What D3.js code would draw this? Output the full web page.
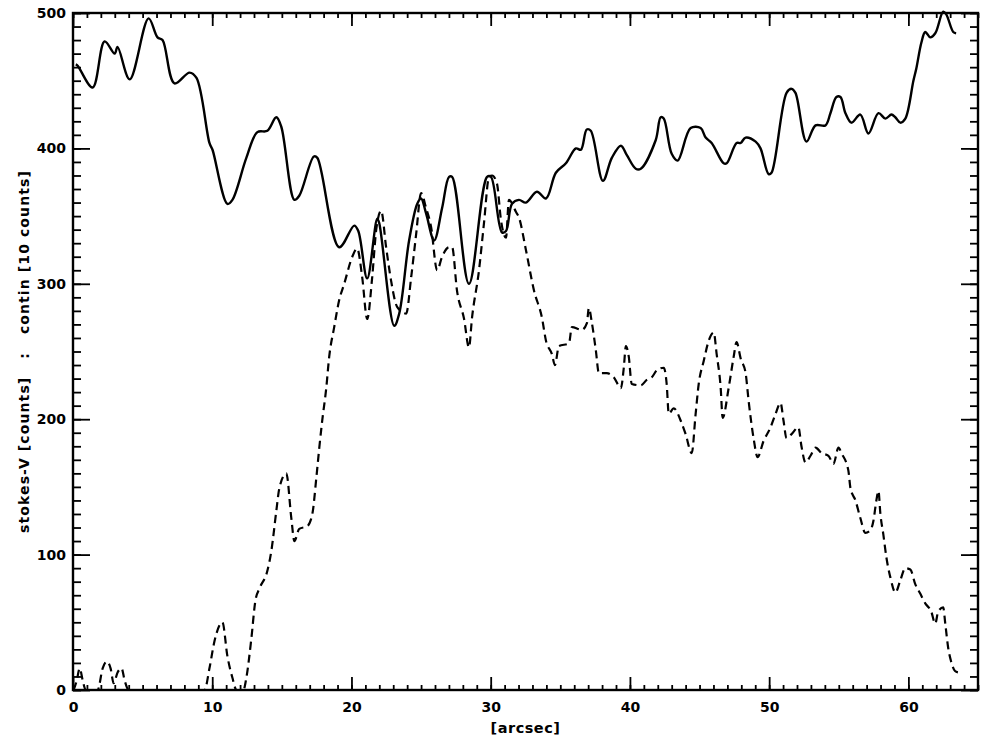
<!DOCTYPE html>
<html>
<head>
<meta charset="utf-8">
<script src="https://cdn.jsdelivr.net/npm/d3@7"></script>
<style>
  body { margin: 0; background: #fff; }
  text { font-family: "DejaVu Sans", sans-serif; fill: #000; }
</style>
</head>
<body>
<script>
var width = 992,
    height = 744;

// continuum intensity (solid), [10 counts]
var contX = [0.2, 0.34, 1.41, 2.27, 2.99, 3.2, 4.07, 5.43, 6.07, 6.43, 7.29, 8.37, 8.87, 9.8, 10.02,
  11.09, 11.45, 12.45, 13.24, 13.96, 14.6, 14.96, 15.9, 16.25, 17.3, 17.55, 19.12, 20.2, 20.49,
  21.13, 21.85, 21.99, 23.07, 23.43, 24.14, 24.72, 25.0, 25.36, 25.94, 26.51, 27.01, 27.23, 28.44,
  29.74, 30.02, 30.81, 31.1, 31.53, 32.03, 32.53, 33.32, 33.97, 34.68, 35.4, 36.12, 36.48, 36.9,
  37.19, 38.06, 38.7, 39.35, 39.78, 40.42, 40.78, 41.85, 42.21, 42.43, 43.0, 43.43, 44.36, 45.08,
  45.44, 45.87, 46.73, 46.95, 47.66, 47.95, 48.31, 49.03, 49.38, 49.96, 50.17, 51.25, 51.61, 51.89,
  52.68, 53.33, 54.04, 54.4, 54.83, 55.12, 55.48, 55.91, 56.55, 57.13, 57.85, 58.35, 58.78, 59.06,
  59.42, 59.78, 60.36, 60.57, 60.93, 61.21, 61.57, 61.93, 62.5, 62.72, 63.22, 63.43];
var contY = [462, 461, 445, 479, 470, 475, 451, 496, 482, 480, 448, 456, 452, 404, 399,
  359, 362, 393, 412, 413, 423, 416, 362, 365, 394, 393, 327, 343, 339,
  304, 348, 345, 269, 278, 332, 359, 363, 352, 332, 356, 379, 379, 300,
  379, 379, 338, 339, 359, 362, 360, 368, 363, 382, 389, 400, 399, 414,
  413, 376, 393, 402, 395, 385, 385, 406, 423, 422, 396, 391, 415, 415,
  408, 404, 389, 389, 404, 404, 408, 405, 400, 381, 382, 441, 444, 441,
  405, 417, 417, 426, 438, 438, 426, 419, 425, 411, 426, 422, 425, 423,
  419, 422, 450, 459, 478, 486, 482, 485, 501, 499, 486, 485];

// stokes-V (dashed), [counts]
var stokesX = [0.05, 0.27, 0.48, 0.7, 0.91, 1.77, 2.13, 2.42, 2.7, 2.92, 3.2, 3.49, 3.71, 4.0,
  9.45, 9.8, 10.16, 10.73, 11.09, 11.45, 11.74, 12.24, 12.45, 12.81, 13.1, 13.39, 13.96, 14.25,
  14.6, 14.82, 15.32, 15.68, 15.9, 16.25, 16.83, 17.19, 17.48, 17.69, 17.9, 18.19, 18.4, 18.76,
  19.12, 19.48, 20.06, 20.41, 20.77, 21.13, 21.49, 21.78, 22.13, 22.49, 22.85, 23.28, 23.93, 24.29,
  24.65, 25.0, 25.36, 25.72, 26.15, 26.51, 27.01, 27.23, 27.58, 28.09, 28.44, 28.66, 29.16, 29.52,
  29.88, 30.1, 30.45, 30.74, 31.1, 31.31, 31.82, 32.03, 32.53, 33.11, 33.68, 33.97, 34.4, 34.61,
  34.9, 35.62, 35.83, 36.55, 36.91, 37.05, 37.27, 37.55, 37.77, 38.34, 38.84, 39.35, 39.56, 39.71,
  39.92, 40.13, 40.78, 41.21, 41.57, 41.93, 42.43, 42.64, 42.79, 43.14, 43.72, 44.0, 44.44, 44.72,
  44.94, 45.3, 45.66, 46.02, 46.23, 46.52, 46.66, 47.09, 47.45, 47.66, 47.95, 48.31, 48.52, 48.88,
  49.17, 49.6, 50.1, 50.46, 50.82, 51.03, 51.25, 51.61, 52.1, 52.32, 52.61, 52.97, 53.33, 53.76,
  54.26, 54.62, 54.98, 55.19, 55.69, 55.84, 56.2, 56.55, 56.91, 57.27, 57.49, 57.7, 57.85, 57.99,
  58.2, 58.42, 58.71, 59.07, 59.42, 59.78, 60.14, 60.5, 60.86, 61.21, 61.64, 61.93, 62.14, 62.5,
  62.65, 62.86, 63.07, 63.35, 63.57];
var stokesY = [0, 7, 16, 7, 0, 0, 16, 21, 16, 5, 13, 16, 7, 0,
  0, 16, 36, 50, 25, 9, 0, 0, 9, 38, 66, 75, 88, 103,
  132, 149, 160, 127, 110, 119, 121, 130, 157, 179, 199, 223, 246, 268,
  288, 300, 320, 326, 305, 274, 305, 340, 354, 327, 302, 283, 278, 305,
  337, 367, 356, 342, 310, 320, 327, 327, 295, 274, 253, 275, 310, 345,
  379, 380, 374, 347, 334, 362, 353, 349, 325, 295, 275, 258, 248, 240,
  254, 256, 268, 266, 271, 282, 271, 251, 234, 234, 231, 223, 238, 254,
  246, 226, 225, 229, 231, 236, 238, 226, 204, 208, 197, 189, 175, 204,
  226, 243, 258, 264, 248, 223, 201, 223, 246, 257, 245, 234, 214, 186,
  172, 184, 194, 204, 212, 199, 186, 189, 194, 180, 168, 173, 179, 175,
  173, 167, 179, 175, 162, 149, 140, 127, 116, 118, 125, 140, 147, 130,
  115, 98, 83, 72, 81, 90, 89, 78, 71, 64, 58, 49, 58, 61,
  49, 31, 21, 14, 13];

var xMajor = [0, 10, 20, 30, 40, 50, 60];
var yMajor = [0, 100, 200, 300, 400, 500];
var xTitle = "[arcsec]";
var yTitle = "stokes-V [counts]   :   contin [10 counts]";

// plot box (window.top is reserved, so prefixed names)
var pLeft = 73, pRight = 978, pTop = 13, pBottom = 690;

var svg = d3.select('body')
    .append('svg')
    .attr('width', width)
    .attr('height', height);

var x = d3.scaleLinear().domain([0, 65]).range([pLeft, pRight]);
var y = d3.scaleLinear().domain([0, 500]).range([pBottom, pTop]);

var xMinor = d3.range(0, 66, 1);
var yMinor = d3.range(0, 501, 10);

function styleAxis(g) {
  g.select('.domain').remove();
  g.selectAll('line').attr('stroke', '#000').attr('stroke-width', 1.8);
  g.selectAll('text')
      .style('font-size', '14px')
      .style('font-weight', 'bold')
      .style('font-family', '"DejaVu Sans", sans-serif');
}

// bottom
svg.append('g').attr('transform', 'translate(0,' + pBottom + ')')
    .call(d3.axisBottom(x).tickValues(xMinor).tickSize(-5).tickFormat(''))
    .call(styleAxis);
svg.append('g').attr('transform', 'translate(0,' + pBottom + ')')
    .call(d3.axisBottom(x).tickValues(xMajor).tickSizeInner(-13).tickSizeOuter(0).tickPadding(12).tickFormat(d3.format('d')))
    .call(styleAxis);
// top
svg.append('g').attr('transform', 'translate(0,' + pTop + ')')
    .call(d3.axisTop(x).tickValues(xMinor).tickSize(-5).tickFormat(''))
    .call(styleAxis);
svg.append('g').attr('transform', 'translate(0,' + pTop + ')')
    .call(d3.axisTop(x).tickValues(xMajor).tickSize(-13).tickFormat(''))
    .call(styleAxis);
// left
svg.append('g').attr('transform', 'translate(' + pLeft + ',0)')
    .call(d3.axisLeft(y).tickValues(yMinor).tickSize(-8).tickFormat(''))
    .call(styleAxis);
svg.append('g').attr('transform', 'translate(' + pLeft + ',0)')
    .call(d3.axisLeft(y).tickValues(yMajor).tickSizeInner(-17).tickSizeOuter(0).tickPadding(7).tickFormat(d3.format('d')))
    .call(styleAxis);
// right
svg.append('g').attr('transform', 'translate(' + pRight + ',0)')
    .call(d3.axisRight(y).tickValues(yMinor).tickSize(-8).tickFormat(''))
    .call(styleAxis);
svg.append('g').attr('transform', 'translate(' + pRight + ',0)')
    .call(d3.axisRight(y).tickValues(yMajor).tickSize(-17).tickFormat(''))
    .call(styleAxis);

// frame
svg.append('rect')
    .attr('x', pLeft).attr('y', pTop)
    .attr('width', pRight - pLeft).attr('height', pBottom - pTop)
    .attr('fill', 'none').attr('stroke', '#000').attr('stroke-width', 2.4);

var contLine = d3.line()
    .x(function(d) { return x(d[0]); })
    .y(function(d) { return y(d[1]); })
    .curve(d3.curveCatmullRom.alpha(0.5));

// monotone so the flat zero stretches don't dip below the axis
var stokesLine = d3.line()
    .x(function(d) { return x(d[0]); })
    .y(function(d) { return y(d[1]); })
    .curve(d3.curveMonotoneX);

var contData = contX.map(function(v, i) { return [v, contY[i]]; });
var stokesData = stokesX.map(function(v, i) { return [v, stokesY[i]]; });

svg.append('path')
    .datum(stokesData)
    .attr('d', stokesLine)
    .attr('fill', 'none')
    .attr('stroke', '#000')
    .attr('stroke-width', 2.2)
    .attr('stroke-dasharray', '8,5');

svg.append('path')
    .datum(contData)
    .attr('d', contLine)
    .attr('fill', 'none')
    .attr('stroke', '#000')
    .attr('stroke-width', 2.4);

// titles
svg.append('text')
    .attr('x', (pLeft + pRight) / 2)
    .attr('y', 733)
    .attr('text-anchor', 'middle')
    .style('font-size', '14.5px')
    .style('font-weight', '600')
    .style('letter-spacing', '0.5px')
    .text(xTitle);

svg.append('text')
    .attr('transform', 'translate(29,' + ((pTop + pBottom) / 2) + ') rotate(-90)')
    .attr('text-anchor', 'middle')
    .style('font-size', '14px')
    .style('font-weight', '600')
    .style('letter-spacing', '1.1px')
    .style('white-space', 'pre')
    .text(yTitle);
</script>
</body>
</html>
